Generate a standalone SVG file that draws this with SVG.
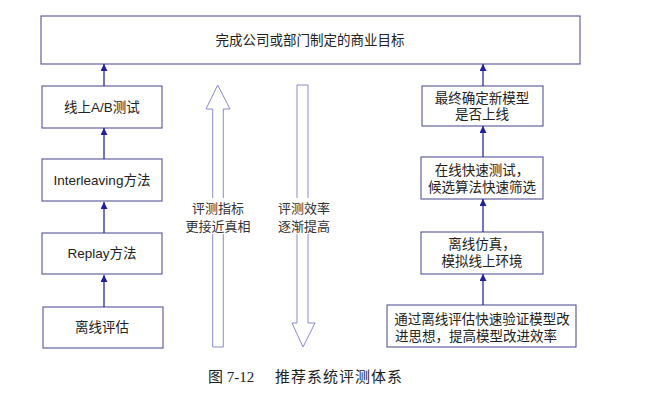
<svg xmlns="http://www.w3.org/2000/svg" width="664" height="408" viewBox="0 0 664 408">
<defs>
<marker id="ah" viewBox="0 0 8 8" refX="8" refY="4" markerWidth="7" markerHeight="7" orient="auto" markerUnits="userSpaceOnUse">
<path d="M0,0 L8,4 L0,8 Z" fill="#1f1fa0"/>
</marker>
<style>
.box{fill:#fff;stroke:#55559a;stroke-width:1.1}
.t{font-family:"Liberation Sans","Noto Sans CJK SC",sans-serif;font-size:13.5px;fill:#222;text-anchor:middle;dominant-baseline:central}
.c{stroke:#2a2aa0;stroke-width:1.3;fill:none}
.big{fill:#fff;stroke:#8a8ad0;stroke-width:1}
.m{font-family:"Noto Sans CJK SC",sans-serif;font-size:13px;fill:#333;text-anchor:middle;dominant-baseline:central}
</style>
</defs>
<rect width="664" height="408" fill="#fff"/>
<g id="goal"><rect class="box" x="41" y="16" width="539" height="48"/><text class="t" x="310" y="40">完成公司或部门制定的商业目标</text></g>
<g id="ab"><rect class="box" x="42" y="86" width="120" height="42"/><text class="t" x="102" y="107">线上A/B测试</text></g>
<g id="inter"><rect class="box" x="42" y="159" width="120" height="42"/><text class="t" x="102" y="180">Interleaving方法</text></g>
<g id="replay"><rect class="box" x="42" y="233" width="120" height="41"/><text class="t" x="102" y="253.5">Replay方法</text></g>
<g id="offline"><rect class="box" x="43" y="307" width="120" height="41"/><text class="t" x="102" y="327.5">离线评估</text></g>
<g id="final"><rect class="box" x="422" y="86" width="121" height="40"/><text class="t" x="482" y="98">最终确定新模型</text><text class="t" x="482" y="114">是否上线</text></g>
<g id="online"><rect class="box" x="421" y="157" width="122" height="42"/><text class="t" x="482" y="170">在线快速测试，</text><text class="t" x="482" y="187">候选算法快速筛选</text></g>
<g id="sim"><rect class="box" x="421" y="232" width="122" height="42"/><text class="t" x="482" y="244">离线仿真，</text><text class="t" x="482" y="261">模拟线上环境</text></g>
<g id="verify"><rect class="box" x="387" y="305" width="189" height="42"/><text class="t" x="482" y="319">通过离线评估快速验证模型改</text><text class="t" x="476" y="336">进思想，提高模型改进效率</text></g>
<g id="upArrow"><path class="big" d="M212.7,347 L212.7,109 L206,109 L217.7,85 L230,109 L223.3,109 L223.3,347 Z"/><rect x="186" y="198" width="64" height="36" fill="#fff"/><text class="m" x="218" y="207">评测指标</text><text class="m" x="218" y="225">更接近真相</text></g>
<g id="downArrow"><path class="big" d="M297,85 L308,85 L308,323 L315,323 L303,347 L292,323 L297,323 Z"/><rect x="276" y="198" width="56" height="36" fill="#fff"/><text class="m" x="304" y="207">评测效率</text><text class="m" x="304" y="225">逐渐提高</text></g>
<g id="connectors">
<line class="c" x1="104" y1="307" x2="104" y2="275" marker-end="url(#ah)"/>
<line class="c" x1="104" y1="233" x2="104" y2="202" marker-end="url(#ah)"/>
<line class="c" x1="104" y1="159" x2="104" y2="128" marker-end="url(#ah)"/>
<line class="c" x1="104" y1="86" x2="104" y2="64" marker-end="url(#ah)"/>
<line class="c" x1="483" y1="305" x2="483" y2="274" marker-end="url(#ah)"/>
<line class="c" x1="483" y1="232" x2="483" y2="199" marker-end="url(#ah)"/>
<line class="c" x1="483" y1="157" x2="483" y2="126" marker-end="url(#ah)"/>
<line class="c" x1="483" y1="86" x2="483" y2="64" marker-end="url(#ah)"/>
</g>
<text x="208" y="382" font-family="Liberation Serif,'Noto Sans CJK SC',serif" font-size="15" fill="#222">图 7-12<tspan x="275" letter-spacing="1">推荐系统评测体系</tspan></text>
</svg>
